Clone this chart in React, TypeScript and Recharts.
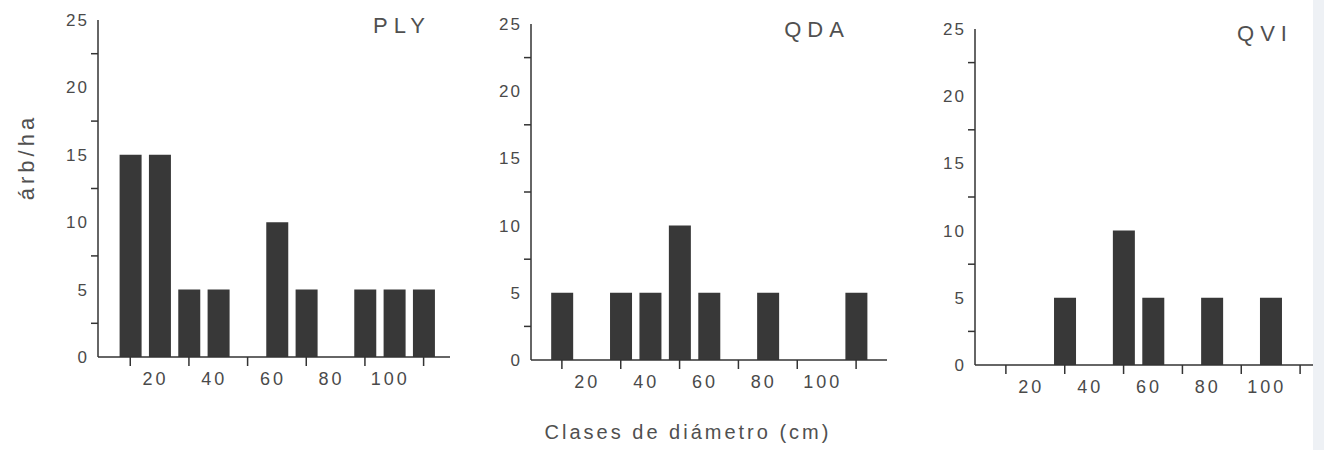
import React from "react";
import { BarChart, Bar, XAxis, YAxis } from "recharts";

const diameterClasses = [10, 20, 30, 40, 50, 60, 70, 80, 90, 100, 110];
const plyValues = [15, 15, 5, 5, 0, 10, 5, 0, 5, 5, 5];
const qdaValues = [5, 0, 5, 5, 10, 5, 0, 5, 0, 0, 5];
const qviValues = [0, 0, 5, 0, 10, 5, 0, 5, 0, 5, 0];
const yTicks = [0, 2.5, 5, 7.5, 10, 12.5, 15, 17.5, 20, 22.5, 25];
const labelledClasses = [20, 40, 60, 80, 100];

const FONT = "'Liberation Sans', Arial, sans-serif";
const INK = "#333";
const TEXT = "#4a4a4a";

function XTick(props: any) {
  const { x, y, payload } = props;
  const v = payload.value;
  if (labelledClasses.includes(v)) {
    return (
      <text
        x={x - 4}
        y={y + 22}
        dy="0.35em"
        textAnchor="middle"
        fontSize={18}
        fill={TEXT}
        style={{ letterSpacing: 3, fontFamily: FONT }}
      >
        {v}
      </text>
    );
  }
  return <line x1={x} x2={x} y1={y} y2={y + 9} stroke={INK} strokeWidth={1.5} />;
}

function YTick(props: any) {
  const { x, y, payload } = props;
  const v = payload.value;
  if (v % 5 === 0) {
    return (
      <text
        x={x - 9}
        y={y}
        dy="0.35em"
        textAnchor="end"
        fontSize={17}
        fill={TEXT}
        style={{ letterSpacing: 2, fontFamily: FONT }}
      >
        {v}
      </text>
    );
  }
  return <line x1={x - 7} x2={x} y1={y} y2={y} stroke={INK} strokeWidth={1.5} />;
}

interface PanelProps {
  values: number[];
  plot: [number, number, number, number];
  domain: [number, number];
}

function Panel({ values, plot, domain }: PanelProps) {
  const data = diameterClasses.map((d, i) => ({ diam: d, value: values[i] }));
  const [x0, y0, x1, y1] = plot;
  return (
    <div style={{ position: "absolute", left: x0 - 60, top: y0 - 20 }}>
      <BarChart
        width={x1 - x0 + 70}
        height={y1 - y0 + 70}
        data={data}
        margin={{ top: 20, left: 20, right: 10, bottom: 10 }}
      >
        <XAxis
          dataKey="diam"
          type="number"
          domain={domain}
          ticks={diameterClasses}
          interval={0}
          allowDataOverflow
          tickLine={false}
          tickSize={0}
          tickMargin={0}
          height={40}
          axisLine={{ stroke: INK, strokeWidth: 1.5 }}
          tick={(p: any) => <XTick {...p} />}
        />
        <YAxis
          type="number"
          domain={[0, 25]}
          ticks={yTicks}
          interval={0}
          tickLine={false}
          tickSize={0}
          tickMargin={0}
          width={40}
          axisLine={{ stroke: INK, strokeWidth: 1.5 }}
          tick={(p: any) => <YTick {...p} />}
        />
        <Bar dataKey="value" fill="#383838" barSize={22} isAnimationActive={false} />
      </BarChart>
    </div>
  );
}

function Title({ text, x, y }: { text: string; x: number; y: number }) {
  return (
    <div
      style={{
        position: "absolute",
        left: x,
        top: y,
        transform: "translate(-50%, -50%)",
        fontFamily: FONT,
        fontSize: 22,
        letterSpacing: 6,
        color: "#505050",
        whiteSpace: "nowrap",
      }}
    >
      {text}
    </div>
  );
}

export default function App() {
  return (
    <div
      style={{
        position: "fixed",
        left: 0,
        top: 0,
        width: 1324,
        height: 450,
        overflow: "hidden",
        background: "#fff",
      }}
    >
      <Panel values={plyValues} plot={[98, 20, 450, 357]} domain={[-1, 119]} />
      <Panel values={qdaValues} plot={[531, 24, 887, 360]} domain={[-0.5, 120.5]} />
      <Panel values={qviValues} plot={[975, 29, 1331, 365]} domain={[-0.5, 120.5]} />
      <Title text="PLY" x={402} y={26} />
      <Title text="QDA" x={817} y={30} />
      <Title text="QVI" x={1265} y={34} />
      <div
        style={{
          position: "absolute",
          left: 27,
          top: 157,
          transform: "translate(-50%, -50%) rotate(-90deg)",
          fontFamily: FONT,
          fontSize: 22,
          letterSpacing: 4,
          color: "#505050",
          whiteSpace: "nowrap",
        }}
      >
        árb/ha
      </div>
      <div
        style={{
          position: "absolute",
          left: 688,
          top: 432,
          transform: "translate(-50%, -50%)",
          fontFamily: FONT,
          fontSize: 20,
          letterSpacing: 3,
          color: "#505050",
          whiteSpace: "nowrap",
        }}
      >
        Clases de diámetro (cm)
      </div>
      <div
        style={{
          position: "absolute",
          left: 1313,
          top: 0,
          width: 11,
          height: 450,
          background: "#eef1f5",
        }}
      />
    </div>
  );
}
